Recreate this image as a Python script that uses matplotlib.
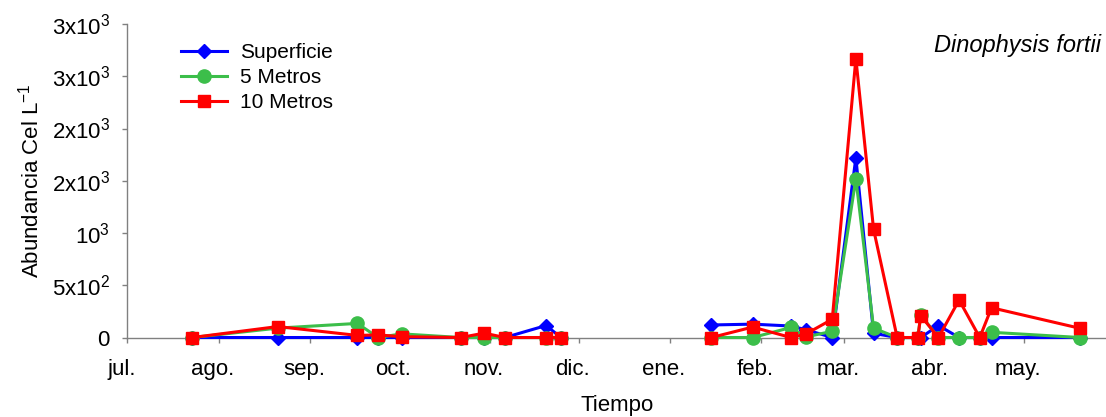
import numpy as np
import pandas as pd
import matplotlib
matplotlib.use('Agg')
import matplotlib.pyplot as plt
import matplotlib.dates as mdates
from matplotlib.transforms import ScaledTranslation

plt.rcParams['font.family'] = ['Liberation Sans', 'DejaVu Sans']
plt.rcParams['mathtext.fontset'] = 'custom'
plt.rcParams['mathtext.rm'] = 'Liberation Sans'
plt.rcParams['mathtext.it'] = 'Liberation Sans:italic'
plt.rcParams['mathtext.default'] = 'regular'

# sampling dates (jul. 2004 - may. 2005)
fechas = ['2004-07-23', '2004-08-21', '2004-09-17', '2004-09-24', '2004-10-02',
          '2004-10-22', '2004-10-30', '2004-11-06', '2004-11-20', '2004-11-25',
          '2005-01-15', '2005-01-29', '2005-02-11', '2005-02-16', '2005-02-25',
          '2005-03-05', '2005-03-11', '2005-03-19', '2005-03-26', '2005-03-27',
          '2005-04-02', '2005-04-09', '2005-04-16', '2005-04-20', '2005-05-20']
# no sampling between the two campaigns (dic.-ene.)
corte = 10

# cells per litre at each depth
superficie = [0, 0, 0, 0, 0, 0, 0, 0, 115, 0,
              120, 128, 110, 75, 0, 1720, 40, 0, 0, 0,
              115, 0, 0, 0, 0]
metros_5 = [0, 90, 135, 0, 35, 0, 0, 0, 0, 0,
            0, 0, 96, 5, 60, 1520, 90, 0, 0, 215,
            0, 0, 0, 50, 0]
metros_10 = [0, 105, 20, 25, 8, 0, 42, 0, 0, 0,
             0, 100, 0, 33, 175, 2670, 1036, 0, 0, 209,
             0, 359, 0, 285, 88]

meses = ['jul.', 'ago.', 'sep.', 'oct.', 'nov.', 'dic.',
         'ene.', 'feb.', 'mar.', 'abr.', 'may.']
y_ticks = [0, 500, 1000, 1500, 2000, 2500, 3000]
y_labels = ['0', '5x10$^2$', '10$^3$', '2x10$^3$', '2x10$^3$', '3x10$^3$', '3x10$^3$']

x = pd.to_datetime(fechas)
month_starts = pd.date_range('2004-07-01', periods=len(meses), freq='MS')

fig = plt.figure(figsize=(11.06, 4.17), dpi=100)
ax = fig.add_axes([0.1151, 0.1906, 0.8849, 0.7518])

series = [
    (superficie, '#0000FF', 'D', 7.5, 'Superficie'),
    (metros_5, '#3CBE4A', 'o', 9.5, '5 Metros'),
    (metros_10, '#FF0000', 's', 8.5, '10 Metros'),
]
for z, (vals, col, mk, ms, lab) in enumerate(series):
    for i, tramo in enumerate([slice(0, corte), slice(corte, None)]):
        ax.plot(x[tramo], vals[tramo], color=col, lw=2.2, marker=mk, ms=ms,
                label=lab if i == 0 else None, clip_on=False, zorder=3 + z)

ax.set_xlim(mdates.date2num(pd.Timestamp('2004-07-01')),
            mdates.date2num(pd.Timestamp('2004-07-01')) + 331.8)
ax.set_ylim(0, 3000)
ax.set_xticks(month_starts)
ax.set_xticklabels(meses)
ax.set_yticks(y_ticks)
ax.set_yticklabels(y_labels)

for side in ['top', 'right']:
    ax.spines[side].set_visible(False)
for side in ['left', 'bottom']:
    ax.spines[side].set_color('#808080')
    ax.spines[side].set_linewidth(1.0)
ax.tick_params(axis='both', direction='out', length=3.5, width=1.0,
               color='#808080', labelsize=16, pad=9)
ax.tick_params(axis='x', pad=12)

# month names sit a little left of their tick
shift = ScaledTranslation(-6 / 100, 0, fig.dpi_scale_trans)
for lbl in ax.get_xticklabels():
    lbl.set_transform(lbl.get_transform() + shift)

ax.set_ylabel('Abundancia Cel L$^{-1}$', fontsize=16, labelpad=6)
ax.set_xlabel('Tiempo', fontsize=16, labelpad=11)

ax.text(0.995, 0.93, 'Dinophysis fortii', transform=ax.transAxes,
        ha='right', va='center', fontsize=17, style='italic')

ax.legend(loc='upper left', bbox_to_anchor=(0.164, 0.896),
          bbox_transform=fig.transFigure, frameon=False, fontsize=15,
          handlelength=2.2, handletextpad=0.6, labelspacing=0.29,
          borderaxespad=0, borderpad=0)

fig.savefig('out.png', dpi=100)
